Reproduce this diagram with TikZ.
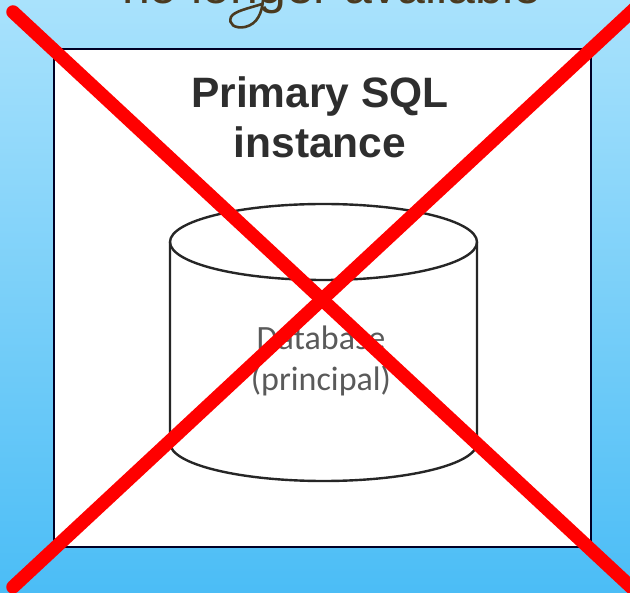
\documentclass[tikz,border=0pt]{standalone}
\usepackage{fontspec}
\setmainfont{Liberation Sans}
\newfontfamily\carlito{Carlito}
\usetikzlibrary{shapes.geometric}
\definecolor{skytop}{HTML}{A9E2FC}
\definecolor{skymid}{HTML}{7FD2FA}
\definecolor{skybot}{HTML}{4BBDF6}
\definecolor{handbrown}{HTML}{4A3A20}
\definecolor{titlegrey}{HTML}{2E2E2E}
\definecolor{dbgrey}{HTML}{5A5A5A}
\definecolor{crossred}{HTML}{FF0000}
\tikzset{
  instancebox/.style={draw=black!85!blue,line width=2.4pt,fill=white},
  cyl/.style={draw=black!85,line width=2.4pt},
  crossline/.style={draw=crossred,line width=13.5pt,line cap=round},
  titletext/.style={font=\fontsize{42.5}{50}\selectfont\bfseries,text=titlegrey,align=center,inner sep=0pt},
  dbtext/.style={font=\carlito\fontsize{34}{41}\selectfont,text=dbgrey,align=center,inner sep=0pt},
  handtext/.style={font=\fontsize{50}{60}\selectfont,text=handbrown,inner sep=0pt,anchor=base}
}
\begin{document}
\begin{tikzpicture}[x=1pt,y=-1pt]
\useasboundingbox (0,0) rectangle (630,593);
\clip (0,0) rectangle (630,593);
\shade[top color=skytop,middle color=skymid,bottom color=skybot] (0,0) rectangle (630,593);
\node[handtext] (banner) at (332,4) {no longer available};
\draw[handbrown,line width=2.6pt,line cap=round] (263,0) .. controls (262,12) and (258,24) .. (245,27) .. controls (235,29) and (228,24) .. (231,17) .. controls (234,11) and (250,8) .. (262,4);
\draw[instancebox] (54,49) rectangle (591,547);
\node[titletext] (title) at (320,117) {Primary SQL\\instance};
\coordinate (cl) at (170,242);
\coordinate (cr) at (477,242);
\coordinate (bl) at (170,443);
\coordinate (br) at (477,443);
\draw[cyl] (323.5,242) ellipse [x radius=153.5,y radius=38];
\draw[cyl] (cl) -- (bl) arc[start angle=180,end angle=360,x radius=153.5,y radius=-38] -- (cr);
\node[dbtext] (db) at (321,361) {Database\\(principal)};
\coordinate (a1) at (13,12);
\coordinate (a2) at (645,600);
\coordinate (b1) at (13,587);
\coordinate (b2) at (645,-1);
\draw[crossline] (a1) -- (a2);
\draw[crossline] (b1) -- (b2);
\end{tikzpicture}
\end{document}
